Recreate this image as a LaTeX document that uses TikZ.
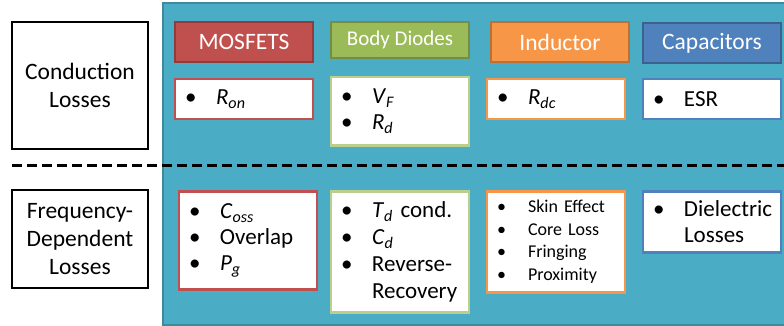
\documentclass[tikz,border=0pt]{standalone}
\usepackage{fontspec}
\setmainfont{Carlito}
\usepackage{tikz}
\usetikzlibrary{positioning}
\definecolor{PanelTeal}{HTML}{4BACC6}
\definecolor{MosRed}{HTML}{C0504D}
\definecolor{DiodeGreen}{HTML}{9BBB59}
\definecolor{IndOrange}{HTML}{F79646}
\definecolor{CapBlue}{HTML}{4F81BD}
\newcommand{\itm}[1]{\makebox[31pt][l]{\textbullet}#1}
\newcommand{\cont}[1]{\hspace*{31pt}#1}
\newcommand{\pvar}[2]{\textit{#1}\textsubscript{\textit{#2}}}
\begin{document}
\begin{tikzpicture}[
  x=1pt, y=-1pt,
  lossbox/.style={draw=black, line width=2.5pt, fill=white, minimum width=136pt, align=center, font=\fontsize{23.5}{28}\selectfont},
  hdr/.style={draw=#1!75!black, fill=#1, line width=2pt, text=white, minimum width=138pt, minimum height=40pt, font=\fontsize{23.5}{28}\selectfont},
  item/.style={draw=#1, fill=white, line width=2.5pt, text width=118pt, inner xsep=10pt, minimum height=40pt, align=left, font=\fontsize{23}{26}\selectfont},
  divider/.style={line width=3pt, dash pattern=on 10pt off 5pt},
  panel/.style={draw=PanelTeal!80!black, fill=PanelTeal, line width=2pt}
]
\useasboundingbox (0,0) rectangle (784,326);
\clip (0,0) rectangle (784,326);

% teal background panel
\draw[panel] (163,3) rectangle (792,325);

% loss categories
\node[lossbox, minimum height=127pt] (cond) at (80,85.5) {Conduction\\Losses};
\node[lossbox, minimum height=98pt] (freq) at (80,239) {Frequency-\\Dependent\\Losses};

% component headers
\node[hdr=MosRed] (mos) at (244,42) {MOSFETS};
\node[hdr=DiodeGreen, minimum height=36pt, font=\fontsize{21}{25}\selectfont, right=16pt of mos.north east, anchor=north west] (diode) {Body Diodes};
\node[hdr=IndOrange, right=20pt of diode.north east, anchor=north west] (ind) {Inductor};
\node[hdr=CapBlue, right=12pt of ind.north east, anchor=north west, yshift=-1pt] (cap) {Capacitors};

% conduction row
\node[item=MosRed, below=15pt of mos] (mosc) {\itm{\pvar{R}{on}}};
\node[item=DiodeGreen!70!white, minimum height=68pt, below=17pt of diode] (diodec) {\itm{\pvar{V}{F}}\\\itm{\pvar{R}{d}}};
\node[item=IndOrange, below=15pt of ind, xshift=-4pt] (indc) {\itm{\pvar{R}{dc}}};
\node[item=CapBlue, below=14pt of cap] (capc) {\itm{ESR}};

% divider
\coordinate (dl) at (12,165);
\coordinate (dr) at (784,165);
\draw[divider] (dl) -- (dr);

% frequency-dependent row
\coordinate (row2) at (0,190);
\node[item=MosRed, anchor=north, minimum height=98pt, xshift=4pt] (mosf) at (mos |- row2) {\itm{\pvar{C}{oss}}\\\itm{Overlap}\\\itm{\pvar{P}{g}}};
\node[item=DiodeGreen!70!white, anchor=north, minimum height=121pt, font=\fontsize{23}{27}\selectfont] (diodef) at (diode |- row2) {\itm{\pvar{T}{d} cond.}\\\itm{\pvar{C}{d}}\\\itm{Reverse-}\\\cont{Recovery}};
\node[item=IndOrange, anchor=north, minimum height=101pt, font=\fontsize{18}{22.5}\selectfont, xshift=-4pt] (indf) at (ind |- row2) {\itm{Skin Effect}\\\itm{Core Loss}\\\itm{Fringing}\\\itm{Proximity}};
\node[item=CapBlue, anchor=north, minimum height=61pt] (capf) at (cap |- row2) {\itm{Dielectric}\\\cont{Losses}};
\end{tikzpicture}
\end{document}
